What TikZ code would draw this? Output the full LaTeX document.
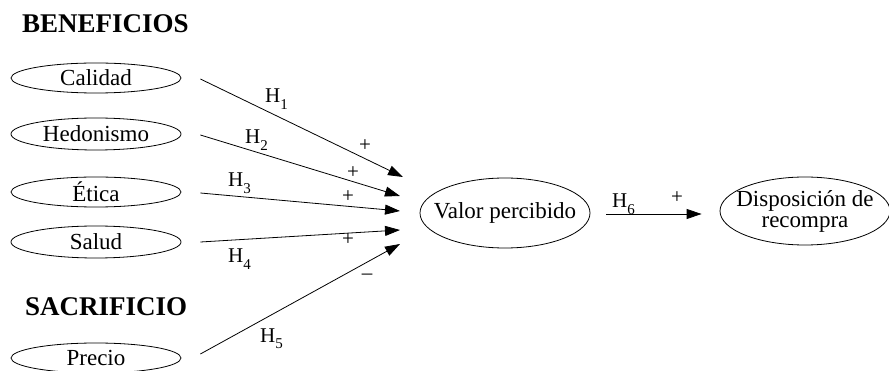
\documentclass[tikz,border=0pt]{standalone}
\usepackage{fontspec}
\setmainfont{Liberation Serif}
\usetikzlibrary{shapes.geometric,arrows.meta}

\tikzset{
  % the ellipse keeps its given size; the caption sits at its centre as a label
  construct/.style={draw, ellipse, line width=0.8pt, inner sep=0pt,
    minimum width=170pt, minimum height=30pt,
    label={[construct text]center:#1}},
  construct text/.style={align=center, inner sep=0pt,
    font=\fontsize{23}{21}\selectfont},
  heading/.style={font=\fontsize{27}{30}\selectfont\bfseries, anchor=base west, inner sep=0pt},
  hyp/.style={font=\fontsize{21}{24}\selectfont, anchor=base west, inner sep=0pt},
  sign/.style={font=\fontsize{21}{22}\selectfont, inner sep=0pt},
  path/.style={line width=0.8pt, -{Triangle[length=15pt,width=10pt]}}
}
\newcommand{\hlabel}[1]{H\raisebox{-0.3em}{\fontsize{15}{16}\selectfont #1}}

\begin{document}
\begin{tikzpicture}[x=1pt,y=-1pt]
\useasboundingbox (0,0) rectangle (889,371);

% group headings
\node[heading] (hben) at (22,33) {BENEFICIOS};
\node[heading] (hsac) at (25,316) {SACRIFICIO};

% antecedent constructs
\node[construct=Calidad] (cal) at (96,78) {};
\node[construct=Hedonismo, minimum height=32pt] (hed) at (96,134) {};
\node[construct=Ética] (eti) at (96,192) {};
\node[construct=Salud, minimum height=32pt] (sal) at (96,242) {};
\node[construct=Precio] (pre) at (96,358) {};

% mediator and outcome
\node[construct=Valor percibido, minimum height=70pt] (vp) at (505,213) {};
\node[construct={Disposición de\\recompra}, minimum height=68pt] (dr) at (805,211) {};

% arrow tips converging on the mediator
\coordinate (t1) at (403,177);
\coordinate (t2) at (400,196);
\coordinate (t3) at (400,211);
\coordinate (t4) at (400,230);
\coordinate (t5) at (400,244);

\draw[path] ([xshift=19pt,yshift=-1pt]cal.east) -- (t1);
\draw[path] ([xshift=19pt,yshift=-1pt]hed.east) -- (t2);
\draw[path] ([xshift=19pt,yshift=-1pt]eti.east) -- (t3);
\draw[path] ([xshift=19pt]sal.east) -- (t4);
\draw[path] ([xshift=19pt,yshift=4pt]pre.east) -- (t5);
\draw[path] ([xshift=16pt,yshift=-1pt]vp.east) -- ([xshift=-18pt,yshift=-3pt]dr.west);

% hypothesis labels
\node[hyp] (h1) at (265,103) {\hlabel{1}};
\node[hyp] (h2) at (245,144) {\hlabel{2}};
\node[hyp] (h3) at (228,187) {\hlabel{3}};
\node[hyp] (h4) at (228,263) {\hlabel{4}};
\node[hyp] (h5) at (260,342) {\hlabel{5}};
\node[hyp] (h6) at (612,208) {\hlabel{6}};

% expected signs
\node[sign] (s1) at (365,146) {+};
\node[sign] (s2) at (353,173) {+};
\node[sign] (s3) at (348,197) {+};
\node[sign] (s4) at (348,240) {+};
\node[sign] (s5) at (367,277) {–};
\node[sign] (s6) at (677,198) {+};
\end{tikzpicture}
\end{document}
